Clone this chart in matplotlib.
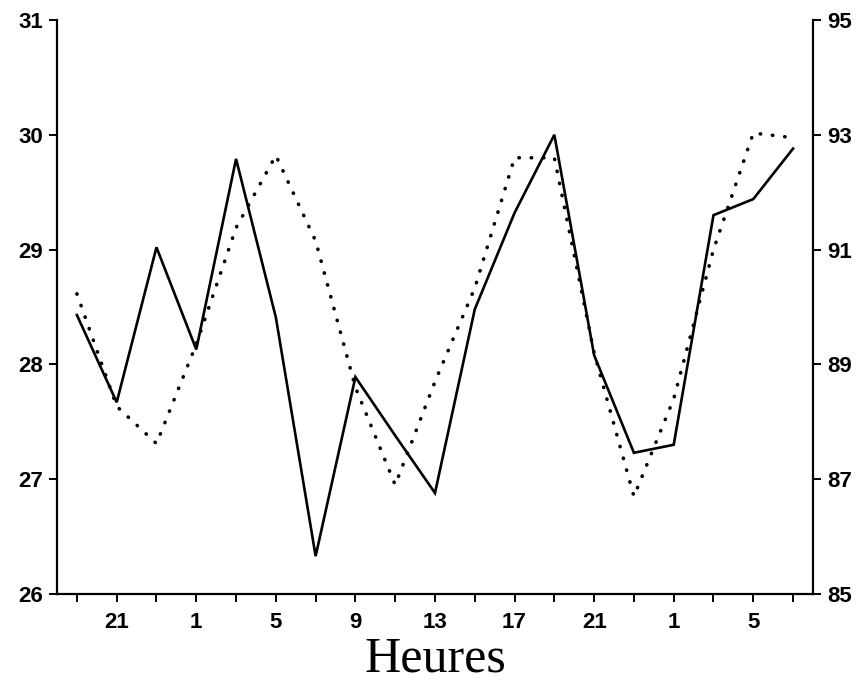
import matplotlib
matplotlib.use('Agg')
import matplotlib.pyplot as plt
import numpy as np

# one point every 2 hours, starting at 19 h
heures = [19, 21, 23, 1, 3, 5, 7, 9, 11, 13, 15, 17, 19, 21, 23, 1, 3, 5, 7]
temp = [28.43, 27.67, 29.02, 28.13, 29.79, 28.41, 26.33, 27.89, 27.38, 26.88,
        28.48, 29.32, 30.0, 28.08, 27.23, 27.3, 29.3, 29.44, 29.88]
humid = [90.23, 88.27, 87.62, 89.35, 91.38, 92.64, 91.15, 88.6, 86.9, 88.7,
         90.33, 92.6, 92.6, 89.2, 86.7, 88.4, 91.0, 93.03, 92.95]
gauche_ticks = [26, 27, 28, 29, 30, 31]
droite_ticks = [85, 87, 89, 91, 93, 95]

plt.rcParams['font.family'] = ['Liberation Sans', 'DejaVu Sans']

fig = plt.figure(figsize=(8.6, 6.92), dpi=100)
ax = fig.add_axes([0.0663, 0.1416, 0.879, 0.8295])
ax2 = ax.twinx()

x = np.arange(len(heures))
ax.plot(x, temp, color='black', lw=1.9, solid_joinstyle='miter')
ax2.plot(x, humid, color='black', lw=2.6, linestyle=(0, (0.1, 3.3)),
         dash_capstyle='round')

ax.set_xlim(-0.5, len(heures) - 0.5)
ax.set_ylim(26, 31)
ax2.set_ylim(85, 95)
ax.set_yticks(gauche_ticks)
ax2.set_yticks(droite_ticks)

ax.set_xticks(x)
ax.set_xticklabels([str(h) if i % 2 == 1 else '' for i, h in enumerate(heures)])

for a in (ax, ax2):
    a.spines['top'].set_visible(False)
    for s in a.spines.values():
        s.set_linewidth(1.6)
ax.spines['right'].set_visible(False)
ax2.spines['left'].set_visible(False)
ax2.spines['bottom'].set_visible(False)

ax.tick_params(axis='both', direction='out', length=6, width=1.4,
               labelsize=16, pad=4)
ax.tick_params(axis='x', pad=7)
ax2.tick_params(axis='y', direction='out', length=6, width=1.4,
                labelsize=16, pad=4)
for lab in ax.get_xticklabels() + ax.get_yticklabels() + ax2.get_yticklabels():
    lab.set_fontweight('bold')

ax.set_xlabel('Heures', fontsize=36, family=['Liberation Serif', 'DejaVu Serif'],
              labelpad=2)

fig.savefig('out.png', dpi=100)
